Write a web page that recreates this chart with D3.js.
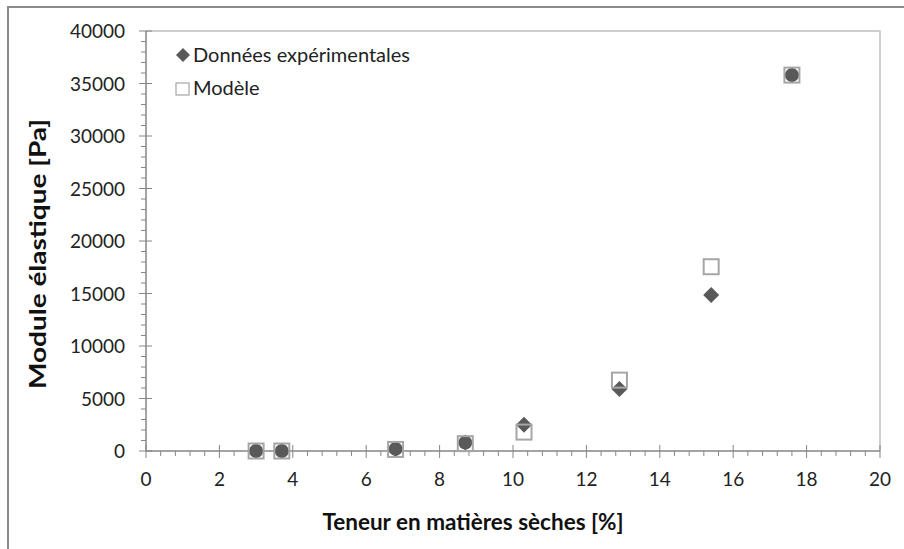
<!DOCTYPE html>
<html>
<head>
<meta charset="utf-8">
<script src="https://cdn.jsdelivr.net/npm/d3@7"></script>
<style>
  html, body { margin: 0; padding: 0; background: #fff; }
  svg { display: block; font-family: Lato, "Open Sans", sans-serif; }
</style>
</head>
<body>
<svg id="chart" width="904" height="549"></svg>
<script>
// Teneur en matières sèches [%]
const xExp = [3.0, 3.7, 6.8, 8.7, 10.3, 12.9, 15.4, 17.6];
// Module élastique mesuré [Pa]
const yExp = [0, 0, 200, 800, 2500, 5900, 14850, 35800];
// Module élastique du modèle [Pa]
const yModele = [0, 0, 150, 700, 1800, 6750, 17550, 35800];
// Mesures complémentaires (hors légende)
const xSupp = [3.0, 3.7, 6.8, 8.7, 17.6];
const ySupp = [0, 0, 200, 800, 35800];

const xTicks = [0, 2, 4, 6, 8, 10, 12, 14, 16, 18, 20];
const yTicks = [0, 5000, 10000, 15000, 20000, 25000, 30000, 35000, 40000];
const legendLabels = ["Données expérimentales", "Modèle"];
const xTitle = "Teneur en matières sèches [%]";
const yTitle = "Module élastique [Pa]";

const svg = d3.select("#chart");
const plotL = 146, plotR = 880, plotT = 31, plotB = 451;

const x = d3.scaleLinear().domain([0, 20]).range([plotL, plotR]);
const y = d3.scaleLinear().domain([0, 40000]).range([plotB, plotT]);

// outer frame
svg.append("path")
  .attr("d", `M8,549 L8,7 L904,7`)
  .attr("fill", "none").attr("stroke", "#8a8a8a").attr("stroke-width", 2);

// plot area border (top and right)
svg.append("path")
  .attr("d", `M${plotL},${plotT} L${plotR},${plotT} L${plotR},${plotB}`)
  .attr("fill", "none").attr("stroke", "#c0c0c0").attr("stroke-width", 1.5);

const axisColor = "#868686";

// x minor ticks (below axis)
const xMinor = d3.range(0, 20.001, 0.4).filter(v => Math.abs(v / 2 - Math.round(v / 2)) > 1e-6);
svg.append("g").selectAll("line").data(xMinor).join("line")
  .attr("x1", d => x(d)).attr("x2", d => x(d))
  .attr("y1", plotB).attr("y2", plotB + 5)
  .attr("stroke", axisColor).attr("stroke-width", 1);
// x major ticks (crossing)
svg.append("g").selectAll("line").data(xTicks).join("line")
  .attr("x1", d => x(d)).attr("x2", d => x(d))
  .attr("y1", plotB - 6).attr("y2", plotB + 7)
  .attr("stroke", axisColor).attr("stroke-width", 1);

// y minor ticks (outside)
const yMinor = d3.range(0, 40001, 1000).filter(v => v % 5000 !== 0);
svg.append("g").selectAll("line").data(yMinor).join("line")
  .attr("x1", plotL - 5).attr("x2", plotL)
  .attr("y1", d => y(d)).attr("y2", d => y(d))
  .attr("stroke", axisColor).attr("stroke-width", 1);
// y major ticks (crossing)
svg.append("g").selectAll("line").data(yTicks).join("line")
  .attr("x1", plotL - 7).attr("x2", plotL + 6)
  .attr("y1", d => y(d)).attr("y2", d => y(d))
  .attr("stroke", axisColor).attr("stroke-width", 1);

// axis lines
svg.append("line").attr("x1", plotL).attr("x2", plotR).attr("y1", plotB).attr("y2", plotB)
  .attr("stroke", axisColor).attr("stroke-width", 1.5);
svg.append("line").attr("x1", plotL).attr("x2", plotL).attr("y1", plotT).attr("y2", plotB)
  .attr("stroke", axisColor).attr("stroke-width", 1.5);

// tick labels
svg.append("g").selectAll("text").data(xTicks).join("text")
  .attr("x", d => x(d)).attr("y", 486)
  .attr("text-anchor", "middle").attr("font-size", 19).attr("fill", "#222")
  .text(d => d);
svg.append("g").selectAll("text").data(yTicks).join("text")
  .attr("x", 125).attr("y", d => y(d) + 7)
  .attr("text-anchor", "end").attr("font-size", 19).attr("fill", "#222")
  .text(d => d);

// axis titles
svg.append("text").attr("x", 473).attr("y", 530)
  .attr("text-anchor", "middle").attr("font-size", 22.5).attr("font-weight", "bold").attr("fill", "#111")
  .text(xTitle);
svg.append("text").attr("transform", "translate(46,254) rotate(-90)")
  .attr("text-anchor", "middle").attr("font-size", 22.5).attr("font-weight", "bold").attr("fill", "#111")
  .attr("textLength", 270).attr("lengthAdjust", "spacingAndGlyphs")
  .text(yTitle);

const diamond = (cx, cy, r) => `M${cx},${cy - r} L${cx + r},${cy} L${cx},${cy + r} L${cx - r},${cy} Z`;
const markDark = "#595959";
const squareColor = "#a6a6a6";

// experimental data: diamonds
svg.append("g").selectAll("path").data(xExp.map((v, i) => [v, yExp[i]])).join("path")
  .attr("d", d => diamond(x(d[0]), y(d[1]), 8))
  .attr("fill", markDark);

// supplementary measurements: circles
svg.append("g").selectAll("circle").data(xSupp.map((v, i) => [v, ySupp[i]])).join("circle")
  .attr("cx", d => x(d[0])).attr("cy", d => y(d[1])).attr("r", 7)
  .attr("fill", markDark);

// model: open squares
svg.append("g").selectAll("rect").data(xExp.map((v, i) => [v, yModele[i]])).join("rect")
  .attr("x", d => x(d[0]) - 7.5).attr("y", d => y(d[1]) - 7.5)
  .attr("width", 15).attr("height", 15)
  .attr("fill", "none").attr("stroke", squareColor).attr("stroke-width", 2);

// legend
const lg = svg.append("g");
lg.append("path").attr("d", diamond(183, 55, 7)).attr("fill", markDark);
lg.append("text").attr("x", 193).attr("y", 62).attr("font-size", 20).attr("fill", "#222").text(legendLabels[0]);
lg.append("rect").attr("x", 176).attr("y", 83).attr("width", 13).attr("height", 12)
  .attr("fill", "none").attr("stroke", squareColor).attr("stroke-width", 1.2);
lg.append("text").attr("x", 193).attr("y", 95).attr("font-size", 20).attr("fill", "#222").text(legendLabels[1]);
</script>
</body>
</html>
